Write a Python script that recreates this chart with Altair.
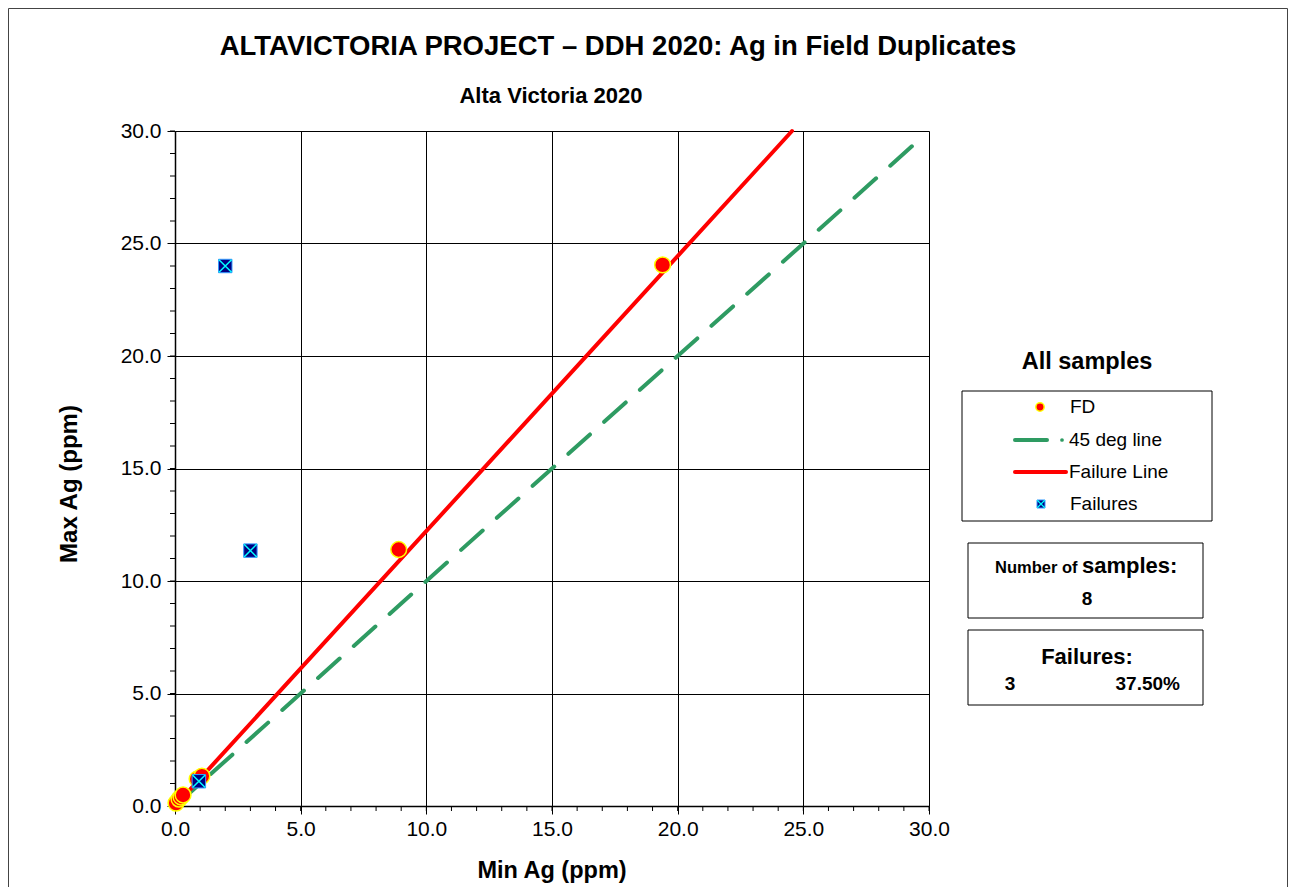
import altair as alt
import pandas as pd

FONT = "Liberation Sans"

# ---- data ----
fd_min = [0.04, 0.16, 0.24, 0.32, 0.88, 1.07, 8.9, 19.4]
fd_max = [0.13, 0.31, 0.40, 0.49, 1.20, 1.33, 11.4, 24.05]
fail_x = [2.0, 3.0, 0.95]
fail_y = [24.0, 11.35, 1.1]
line45_x = [0.0, 29.7]
line45_y = [0.0, 29.7]
failline_x = [0.0, 24.55]
failline_y = [0.0, 30.0]
major_ticks = [0, 5, 10, 15, 20, 25, 30]
minor_ticks = list(range(0, 31))
n_samples = 8
n_failures = 3
fail_pct = "37.50%"

W, H = 754, 675

fd = pd.DataFrame({"min": fd_min, "max": fd_max})
fails = pd.DataFrame({"x": fail_x, "y": fail_y})
l45 = pd.DataFrame({"x": line45_x, "y": line45_y})
lfail = pd.DataFrame({"x": failline_x, "y": failline_y})
minor = pd.DataFrame({"v": minor_ticks})
one = pd.DataFrame({"k": [0]})

xs = alt.Scale(domain=[0, 30], nice=False, zero=True)
ys = alt.Scale(domain=[0, 30], nice=False, zero=True)

ax_x = alt.Axis(values=major_ticks, format=".1f", grid=True, gridColor="black", gridWidth=1,
                tickColor="black", tickSize=8, tickWidth=1, domainColor="black", domainWidth=1.5,
                labelFont=FONT, labelFontSize=21, labelColor="black", labelPadding=4,
                labelFlush=False, labelOverlap=False, title=None)
ax_y = alt.Axis(values=major_ticks, format=".1f", grid=True, gridColor="black", gridWidth=1,
                tickColor="black", tickSize=8, tickWidth=1, domainColor="black", domainWidth=1.5,
                labelFont=FONT, labelFontSize=21, labelColor="black", labelPadding=6,
                labelFlush=False, labelOverlap=False, title=None)

green = "#2E9B62"
red = "#FF0000"

# lines
g45 = alt.Chart(l45).mark_line(color=green, strokeWidth=4, strokeDash=[29, 19], strokeCap="round").encode(
    x=alt.X("x:Q", scale=xs, axis=ax_x), y=alt.Y("y:Q", scale=ys, axis=ax_y))
gfail = alt.Chart(lfail).mark_line(color=red, strokeWidth=4, strokeCap="round").encode(
    x=alt.X("x:Q", scale=xs), y=alt.Y("y:Q", scale=ys))

pts = alt.Chart(fd).mark_point(shape="circle", filled=True, fill=red, stroke="#FFFF00",
                               strokeWidth=1.5, size=250, opacity=1).encode(
    x=alt.X("min:Q", scale=xs), y=alt.Y("max:Q", scale=ys))

sq = alt.Chart(fails).mark_point(shape="square", filled=True, fill="#000080", stroke="#3399FF",
                                 strokeWidth=1, size=180, opacity=1).encode(
    x=alt.X("x:Q", scale=xs), y=alt.Y("y:Q", scale=ys))
cross = alt.Chart(fails).mark_point(shape="M -1 -1 L 1 1 M -1 1 L 1 -1", filled=False,
                                    stroke="#00FFFF", strokeWidth=1.5, size=160, opacity=1).encode(
    x=alt.X("x:Q", scale=xs), y=alt.Y("y:Q", scale=ys))

# minor ticks
mx = alt.Chart(minor).mark_rule(color="black", strokeWidth=1).encode(
    x=alt.X("v:Q", scale=xs), y=alt.value(H), y2=alt.value(H + 5))
my = alt.Chart(minor).mark_rule(color="black", strokeWidth=1).encode(
    y=alt.Y("v:Q", scale=ys), x=alt.value(-5), x2=alt.value(0))


def txt(text, x, y, size=16, bold=False, align="left", angle=0):
    kw = dict(text=text, font=FONT, fontSize=size, fontWeight="bold" if bold else "normal",
              align=align, baseline="middle", color="black")
    if angle:
        kw["angle"] = angle
    return alt.Chart(one).mark_text(**kw).encode(x=alt.value(x), y=alt.value(y))


def box(x1, x2, y1, y2, fill="white", stroke="black", sw=1):
    return alt.Chart(one).mark_rect(fill=fill, stroke=stroke, strokeWidth=sw).encode(
        x=alt.value(x1), x2=alt.value(x2), y=alt.value(y1), y2=alt.value(y2))


frame = box(-166.5, 1112.5, -122.5, 900, fill="transparent", stroke="#444444", sw=1)

annos = [
    txt("ALTAVICTORIA  PROJECT – DDH 2020: Ag in Field Duplicates", 443, -84, 27.5, True, "center"),
    txt("Alta Victoria 2020", 376, -35, 22, True, "center"),
    txt("Min Ag (ppm)", 377, H + 65, 23.5, True, "center"),
    txt("Max  Ag (ppm)", -105, 353, 24, True, "center", angle=270),
    txt("All samples", 912, 231, 23.5, True, "center"),
    box(787, 1037, 260, 390),
    alt.Chart(one).mark_point(shape="circle", filled=True, fill=red, stroke="#FFFF00", strokeWidth=1.5,
                              size=70, opacity=1).encode(x=alt.value(865), y=alt.value(276)),
    txt("FD", 895, 276, 19),
    alt.Chart(one).mark_rule(color=green, strokeWidth=4, strokeCap="round").encode(
        x=alt.value(840), x2=alt.value(872), y=alt.value(309)),
    alt.Chart(one).mark_point(shape="circle", filled=True, fill=green, size=14, opacity=1).encode(
        x=alt.value(887), y=alt.value(309)),
    txt("45 deg line", 894, 309, 19),
    alt.Chart(one).mark_rule(color=red, strokeWidth=4, strokeCap="round").encode(
        x=alt.value(840), x2=alt.value(891), y=alt.value(341)),
    txt("Failure Line", 894, 341, 19),
    alt.Chart(one).mark_point(shape="square", filled=True, fill="#000080", stroke="#3399FF",
                              strokeWidth=1, size=64, opacity=1).encode(x=alt.value(866), y=alt.value(373)),
    alt.Chart(one).mark_point(shape="M -1 -1 L 1 1 M -1 1 L 1 -1", filled=False, stroke="#00FFFF",
                              strokeWidth=1.2, size=56, opacity=1).encode(x=alt.value(866), y=alt.value(373)),
    txt("Failures", 895, 373, 19),
    box(793, 1028, 412, 487),
    txt("Number of", 820, 437, 16.5, True),
    txt("samples:", 907, 435, 22, True),
    txt(str(n_samples), 912, 468, 19, True, "center"),
    box(793, 1028, 499, 574),
    txt("Failures:", 912, 526, 22, True, "center"),
    txt(str(n_failures), 835, 553, 19, True, "center"),
    txt(fail_pct, 1005, 553, 19, True, "right"),
]

chart = alt.layer(g45, gfail, mx, my, pts, sq, cross, frame, *annos).properties(
    width=W, height=H,
    autosize=alt.AutoSizeParams(type="none"),
    padding={"left": 167, "top": 123, "right": 359, "bottom": 81},
).configure_view(stroke="black", strokeWidth=1.5).configure(background="white")

chart.save("out.html", embed_options={"renderer": "svg", "actions": False})
